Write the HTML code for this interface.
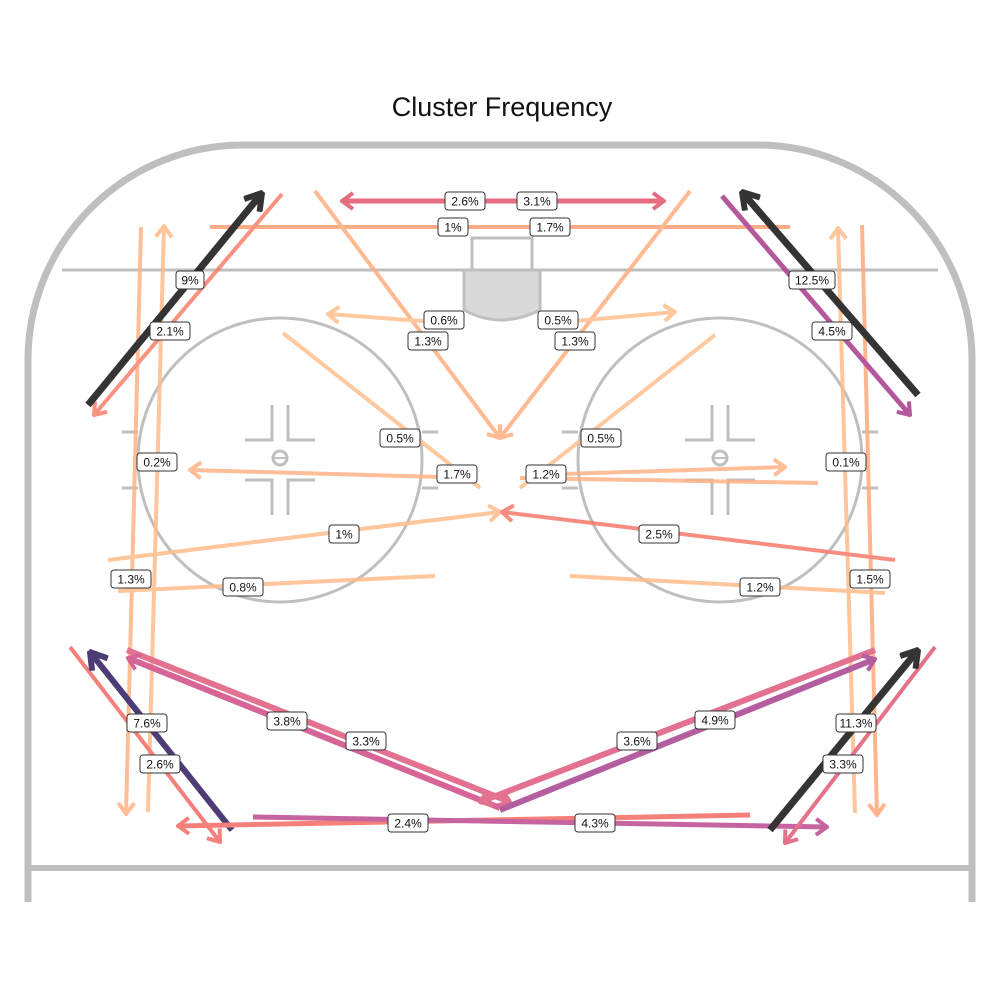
<!DOCTYPE html>
<html><head><meta charset="utf-8"><style>
body{margin:0;background:#fff;width:1000px;height:1000px;overflow:hidden}
svg{display:block}
.lb rect{fill:#fff;stroke:#333;stroke-width:1}
.lb text{font-family:"Liberation Sans",sans-serif;font-size:12px;fill:#111;text-anchor:middle}
</style></head><body>
<svg width="1000" height="1000" viewBox="0 0 1000 1000">
<defs>
<marker id="mk" viewBox="-12 -10 14 20" refX="0" refY="0" markerWidth="14" markerHeight="20" markerUnits="userSpaceOnUse" orient="auto">
<path d="M-11,-8 L0,0 L-11,8" fill="none" stroke="context-stroke" stroke-width="4"/>
</marker>
<marker id="mkk" viewBox="-18 -12 20 24" refX="0" refY="0" markerWidth="20" markerHeight="24" markerUnits="userSpaceOnUse" orient="auto">
<path d="M-16,-10 L0,0 L-16,10" fill="none" stroke="context-stroke" stroke-width="6"/>
</marker>
</defs>
<text x="502" y="116" font-family="'Liberation Sans',sans-serif" font-size="27" text-anchor="middle" fill="#111">Cluster Frequency</text>
<g fill="none" stroke="#bfbfbf">
<path d="M28,902 L28,360 A215,215 0 0 1 243,145 L757,145 A215,215 0 0 1 972,360 L972,902" stroke-width="7"/>
<line x1="28" y1="868" x2="972" y2="868" stroke-width="6"/>
<line x1="62" y1="270" x2="938" y2="270" stroke-width="3"/>
<rect x="472" y="238" width="60" height="32" stroke-width="3"/>
<path d="M464,270 L464,310 Q500,330 540,310 L540,270 Z" fill="#d9d9d9" stroke-width="3"/>
<circle cx="280" cy="460" r="142" stroke-width="3"/>
<circle cx="720" cy="460" r="142" stroke-width="3"/>
<path d="M122,432H138M122,488H138M422,432H438M422,488H438M562,432H578M562,488H578M862,432H878M862,488H878" stroke-width="3"/>
<path d="M272,405V440H245M288,405V440H315M272,515V480H245M288,515V480H315" stroke-width="3"/>
<path d="M712,405V440H685M728,405V440H755M712,515V480H685M728,515V480H755" stroke-width="3"/>
<circle cx="280" cy="458" r="7" stroke-width="3"/><line x1="274" y1="458" x2="286" y2="458" stroke-width="2"/>
<circle cx="720" cy="458" r="7" stroke-width="3"/><line x1="714" y1="458" x2="726" y2="458" stroke-width="2"/>
</g>
<g fill="none" stroke-linecap="butt" stroke-width="4" opacity="0.85">
<!-- light orange verticals -->
<line x1="141" y1="227" x2="126" y2="814" stroke="#ffb385" marker-end="url(#mk)"/>
<line x1="148" y1="812" x2="164" y2="226" stroke="#ffbb8a" marker-end="url(#mk)"/>
<line x1="855" y1="813" x2="838" y2="228" stroke="#ffbb8a" marker-end="url(#mk)"/>
<line x1="862" y1="225" x2="877" y2="815" stroke="#ffaa7c" marker-end="url(#mk)"/>
<!-- top -->
<line x1="210" y1="227" x2="790" y2="227" stroke="#fd9f70"/>
<line x1="502" y1="201" x2="342" y2="201" stroke="#e2546a" stroke-width="5" marker-end="url(#mk)"/>
<line x1="500" y1="201" x2="664" y2="201" stroke="#e2546a" stroke-width="5" marker-end="url(#mk)"/>
<line x1="315" y1="191" x2="500" y2="438" stroke="#ffae7e" marker-end="url(#mk)"/>
<line x1="690" y1="191" x2="500" y2="438" stroke="#ffae7e" marker-end="url(#mk)"/>
<line x1="435" y1="322" x2="328" y2="314" stroke="#ffc090" marker-end="url(#mk)"/>
<line x1="565" y1="322" x2="675" y2="312" stroke="#ffc090" marker-end="url(#mk)"/>
<line x1="283" y1="333" x2="480" y2="488" stroke="#ffc090"/>
<line x1="715" y1="335" x2="520" y2="488" stroke="#ffc090"/>
<line x1="440" y1="477" x2="190" y2="470" stroke="#ffb385" marker-end="url(#mk)"/>
<line x1="530" y1="475" x2="785" y2="467" stroke="#ffb385" marker-end="url(#mk)"/>
<line x1="520" y1="478" x2="818" y2="483" stroke="#ffb385"/>
<line x1="108" y1="560" x2="500" y2="512" stroke="#ffbb8a" marker-end="url(#mk)"/>
<line x1="895" y1="560" x2="502" y2="512" stroke="#f67a6c" marker-end="url(#mk)"/>
<line x1="118" y1="591" x2="435" y2="576" stroke="#ffbb8a"/>
<line x1="570" y1="576" x2="885" y2="593" stroke="#ffbb8a"/>
<!-- corners top -->
<line x1="282" y1="194" x2="94" y2="415" stroke="#f8806a" marker-end="url(#mk)"/>
<line x1="88" y1="405" x2="262" y2="193" stroke="#111" stroke-width="7" marker-end="url(#mkk)"/>
<line x1="722" y1="196" x2="910" y2="415" stroke="#a73a8a" stroke-width="5" marker-end="url(#mk)"/>
<line x1="918" y1="395" x2="742" y2="192" stroke="#111" stroke-width="7" marker-end="url(#mkk)"/>
<!-- bottom -->
<line x1="70" y1="647" x2="220" y2="842" stroke="#f46a62" marker-end="url(#mk)"/>
<line x1="232" y1="830" x2="90" y2="652" stroke="#2e1b5e" stroke-width="6" marker-end="url(#mkk)"/>
<line x1="127" y1="650" x2="510" y2="802" stroke="#dd5a7c" stroke-width="6" marker-end="url(#mk)"/>
<line x1="500" y1="808" x2="128" y2="658" stroke="#cf4a85" stroke-width="6" marker-end="url(#mk)"/>
<line x1="875" y1="650" x2="480" y2="802" stroke="#dd5a7c" stroke-width="6" marker-end="url(#mk)"/>
<line x1="500" y1="810" x2="875" y2="659" stroke="#a8418f" stroke-width="6" marker-end="url(#mk)"/>
<line x1="750" y1="815" x2="178" y2="826" stroke="#f46a62" stroke-width="5" marker-end="url(#mk)"/>
<line x1="253" y1="817" x2="827" y2="827" stroke="#bd4a90" stroke-width="5" marker-end="url(#mk)"/>
<line x1="935" y1="647" x2="785" y2="843" stroke="#e05a74" marker-end="url(#mk)"/>
<line x1="770" y1="830" x2="918" y2="650" stroke="#111" stroke-width="7" marker-end="url(#mkk)"/>
</g>
<g class="lb">
<g transform="translate(465,201)"><rect x="-20" y="-9" width="40" height="18" rx="3"/><text y="4.5">2.6%</text></g>
<g transform="translate(537,201)"><rect x="-20" y="-9" width="40" height="18" rx="3"/><text y="4.5">3.1%</text></g>
<g transform="translate(453,227)"><rect x="-15" y="-9" width="30" height="18" rx="3"/><text y="4.5">1%</text></g>
<g transform="translate(550,227)"><rect x="-20" y="-9" width="40" height="18" rx="3"/><text y="4.5">1.7%</text></g>
<g transform="translate(190,280)"><rect x="-14" y="-9" width="28" height="18" rx="3"/><text y="4.5">9%</text></g>
<g transform="translate(170,331)"><rect x="-20" y="-9" width="40" height="18" rx="3"/><text y="4.5">2.1%</text></g>
<g transform="translate(444,320)"><rect x="-20" y="-9" width="40" height="18" rx="3"/><text y="4.5">0.6%</text></g>
<g transform="translate(428,341)"><rect x="-20" y="-9" width="40" height="18" rx="3"/><text y="4.5">1.3%</text></g>
<g transform="translate(558,320)"><rect x="-20" y="-9" width="40" height="18" rx="3"/><text y="4.5">0.5%</text></g>
<g transform="translate(575,341)"><rect x="-20" y="-9" width="40" height="18" rx="3"/><text y="4.5">1.3%</text></g>
<g transform="translate(812,280)"><rect x="-23" y="-9" width="46" height="18" rx="3"/><text y="4.5">12.5%</text></g>
<g transform="translate(832,331)"><rect x="-20" y="-9" width="40" height="18" rx="3"/><text y="4.5">4.5%</text></g>
<g transform="translate(400,438)"><rect x="-20" y="-9" width="40" height="18" rx="3"/><text y="4.5">0.5%</text></g>
<g transform="translate(601,438)"><rect x="-20" y="-9" width="40" height="18" rx="3"/><text y="4.5">0.5%</text></g>
<g transform="translate(157,462)"><rect x="-20" y="-9" width="40" height="18" rx="3"/><text y="4.5">0.2%</text></g>
<g transform="translate(846,462)"><rect x="-20" y="-9" width="40" height="18" rx="3"/><text y="4.5">0.1%</text></g>
<g transform="translate(457,474)"><rect x="-20" y="-9" width="40" height="18" rx="3"/><text y="4.5">1.7%</text></g>
<g transform="translate(546,474)"><rect x="-20" y="-9" width="40" height="18" rx="3"/><text y="4.5">1.2%</text></g>
<g transform="translate(344,534)"><rect x="-15" y="-9" width="30" height="18" rx="3"/><text y="4.5">1%</text></g>
<g transform="translate(659,534)"><rect x="-20" y="-9" width="40" height="18" rx="3"/><text y="4.5">2.5%</text></g>
<g transform="translate(131,579)"><rect x="-20" y="-9" width="40" height="18" rx="3"/><text y="4.5">1.3%</text></g>
<g transform="translate(243,587)"><rect x="-20" y="-9" width="40" height="18" rx="3"/><text y="4.5">0.8%</text></g>
<g transform="translate(760,587)"><rect x="-20" y="-9" width="40" height="18" rx="3"/><text y="4.5">1.2%</text></g>
<g transform="translate(870,579)"><rect x="-20" y="-9" width="40" height="18" rx="3"/><text y="4.5">1.5%</text></g>
<g transform="translate(147,723)"><rect x="-20" y="-9" width="40" height="18" rx="3"/><text y="4.5">7.6%</text></g>
<g transform="translate(160,764)"><rect x="-20" y="-9" width="40" height="18" rx="3"/><text y="4.5">2.6%</text></g>
<g transform="translate(287,721)"><rect x="-20" y="-9" width="40" height="18" rx="3"/><text y="4.5">3.8%</text></g>
<g transform="translate(366,741)"><rect x="-20" y="-9" width="40" height="18" rx="3"/><text y="4.5">3.3%</text></g>
<g transform="translate(637,741)"><rect x="-20" y="-9" width="40" height="18" rx="3"/><text y="4.5">3.6%</text></g>
<g transform="translate(715,720)"><rect x="-20" y="-9" width="40" height="18" rx="3"/><text y="4.5">4.9%</text></g>
<g transform="translate(856,723)"><rect x="-20" y="-9" width="40" height="18" rx="3"/><text y="4.5">11.3%</text></g>
<g transform="translate(843,764)"><rect x="-20" y="-9" width="40" height="18" rx="3"/><text y="4.5">3.3%</text></g>
<g transform="translate(408,823)"><rect x="-20" y="-9" width="40" height="18" rx="3"/><text y="4.5">2.4%</text></g>
<g transform="translate(595,823)"><rect x="-20" y="-9" width="40" height="18" rx="3"/><text y="4.5">4.3%</text></g>
</g>
</svg>
</body></html>
